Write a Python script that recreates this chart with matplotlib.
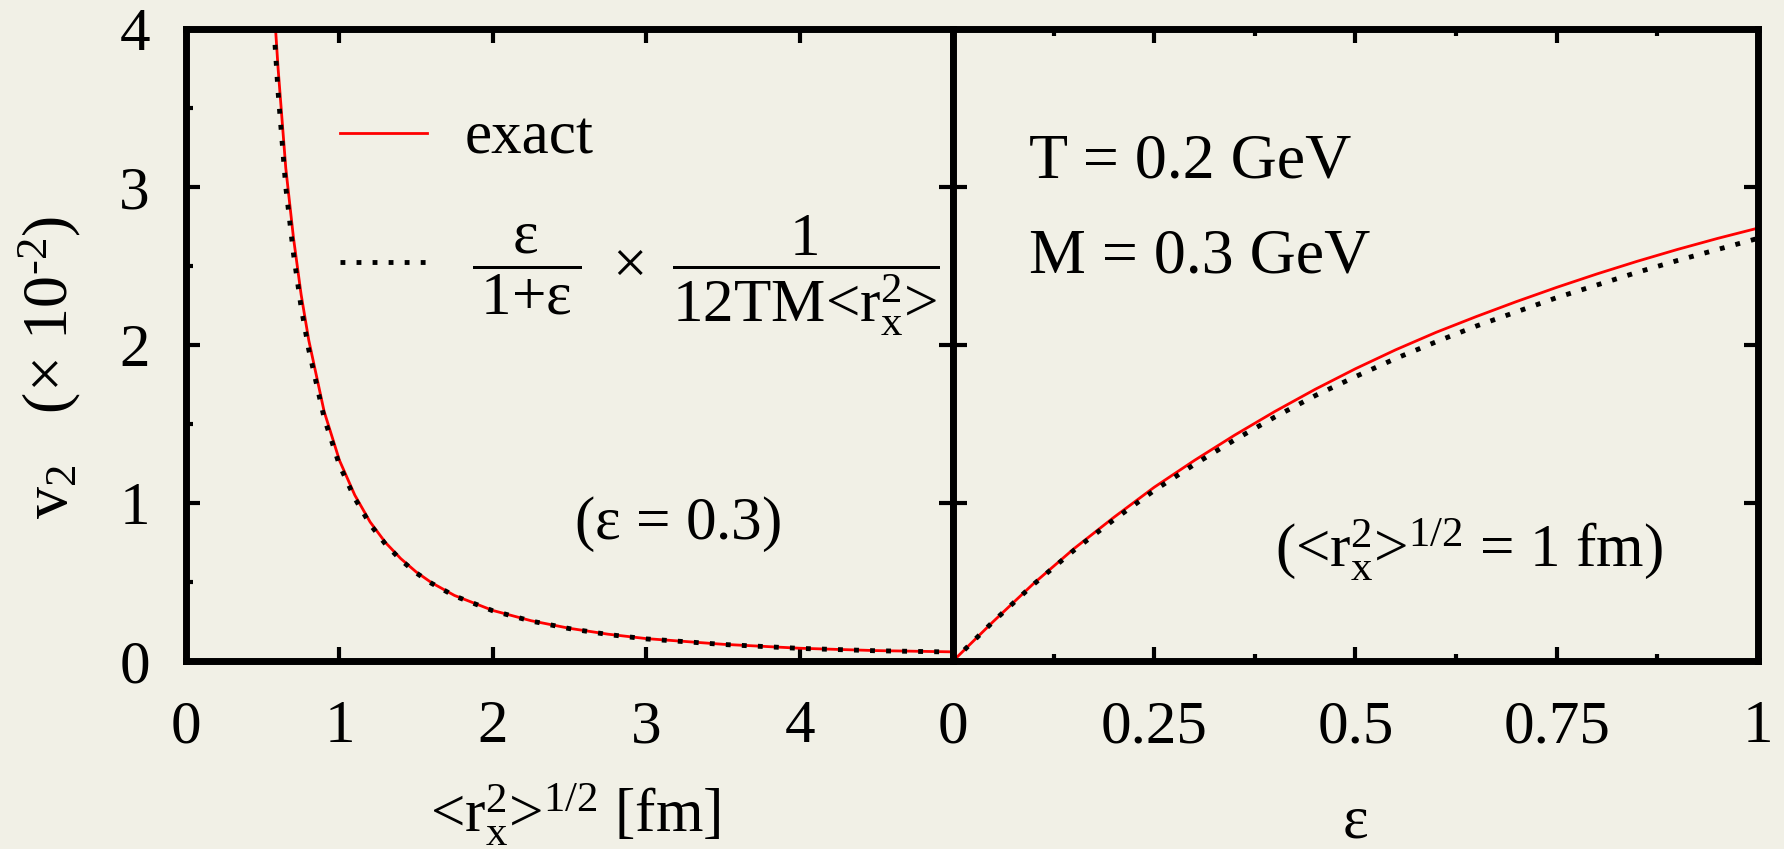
import matplotlib
matplotlib.use('Agg')
import matplotlib.pyplot as plt
from matplotlib.ticker import MultipleLocator

plt.rcParams['font.family'] = 'Liberation Serif'
plt.rcParams['mathtext.fontset'] = 'custom'
plt.rcParams['mathtext.rm'] = 'Liberation Serif'
plt.rcParams['mathtext.it'] = 'Liberation Serif'
plt.rcParams['mathtext.bf'] = 'Liberation Serif'

bg = '#F1F0E6'
fs = 44

# v2 (x 10^-2) against the rms radius, eps = 0.3
r_rms = [0.58, 0.6, 0.65, 0.7, 0.75, 0.8, 0.9, 1.0, 1.1, 1.2, 1.3, 1.4, 1.5, 1.6,
         1.75, 2.0, 2.25, 2.5, 2.75, 3.0, 3.5, 4.0, 4.5, 5.0]
v2_r_exact = [4.05, 3.75, 3.12, 2.68, 2.32, 2.03, 1.58, 1.27, 1.05, 0.88, 0.75,
              0.648, 0.564, 0.496, 0.415, 0.32, 0.255, 0.207, 0.17, 0.142, 0.106,
              0.081, 0.066, 0.058]
v2_r_approx = [3.9, 3.6, 3.0, 2.58, 2.24, 1.97, 1.54, 1.24, 1.03, 0.865, 0.74,
               0.64, 0.558, 0.492, 0.412, 0.318, 0.253, 0.205, 0.168, 0.14, 0.105,
               0.08, 0.065, 0.057]

# v2 (x 10^-2) against eccentricity, <r_x^2>^1/2 = 1 fm
eps = [0, 0.05, 0.1, 0.15, 0.2, 0.25, 0.3, 0.35, 0.4, 0.45, 0.5,
       0.55, 0.6, 0.65, 0.7, 0.75, 0.8, 0.85, 0.9, 0.95, 1.0]
v2_e_exact = [0, 0.25, 0.49, 0.71, 0.91, 1.10, 1.27, 1.43, 1.58, 1.72, 1.85,
              1.97, 2.08, 2.18, 2.275, 2.365, 2.45, 2.53, 2.605, 2.675, 2.74]
v2_e_approx = [0, 0.25, 0.485, 0.70, 0.895, 1.08, 1.245, 1.40, 1.545, 1.68, 1.80,
               1.915, 2.02, 2.12, 2.21, 2.30, 2.38, 2.46, 2.535, 2.605, 2.675]

fig = plt.figure(figsize=(17.84, 8.49), dpi=100, facecolor=bg)
ax1 = fig.add_axes([0.1043, 0.2214, 0.4299, 0.7444], facecolor=bg)
ax2 = fig.add_axes([0.5342, 0.2214, 0.4512, 0.7444], facecolor=bg)

dots = (0, (1, 2.3))
approx_label = (r'$\,\dfrac{\varepsilon}{\,1\text{+}\varepsilon\,}\ \times\ '
                r'\dfrac{1}{12\mathrm{TM}\text{<}\mathrm{r}_\mathrm{x}^2\text{>}}$')
for ax, x, ye, ya in [(ax1, r_rms, v2_r_exact, v2_r_approx),
                      (ax2, eps, v2_e_exact, v2_e_approx)]:
    ax.plot(x, ye, color='red', lw=2.0, label='exact')
    ax.plot(x, ya, color='black', lw=3.5, ls=dots, dash_capstyle='butt',
            label=approx_label)
    ax.set_ylim(0, 4)
    ax.set_yticks([0, 1, 2, 3, 4])
    for s in ax.spines.values():
        s.set_linewidth(5)
    ax.tick_params(which='major', direction='in', top=True, right=True,
                   length=10, width=3, labelsize=fs, pad=28)
    ax.tick_params(which='minor', direction='in', length=5, width=3)

ax1.set_xlim(0, 5)
ax1.set_xticks([0, 1, 2, 3, 4])
ax1.yaxis.set_minor_locator(MultipleLocator(0.5))
ax1.tick_params(which='minor', left=True, right=False)
ax1.tick_params(axis='y', pad=26)

ax2.set_xlim(0, 1)
ax2.set_xticks([0, 0.25, 0.5, 0.75, 1])
ax2.set_xticklabels(['0', '0.25', '0.5', '0.75', '1'])
ax2.xaxis.set_minor_locator(MultipleLocator(0.125))
ax2.tick_params(which='minor', top=True, bottom=True)
ax2.tick_params(labelleft=False)

leg = ax1.legend(loc='upper left', bbox_to_anchor=(0.2008, 0.87), frameon=False,
                 fontsize=fs, handlelength=1.42, handletextpad=0.62,
                 borderpad=0, borderaxespad=0, labelspacing=0.75)

ax1.text(2.53, 0.77, r'($\varepsilon$ = 0.3)', fontsize=fs, va='baseline')
ax2.text(0.094, 3.06, 'T = 0.2 GeV', fontsize=46, va='baseline')
ax2.text(0.094, 2.46, 'M = 0.3 GeV', fontsize=46, va='baseline')
ax2.text(0.40, 0.595,
         r'($\text{<}\mathrm{r}_\mathrm{x}^2\text{>}^{1/2}$ = 1 fm)',
         fontsize=fs, va='baseline')

fig.text(50 / 1784, 1 - 367 / 849,
         r'$\mathrm{v}_2\ \ \ (\times\ 10^{\text{-}2})$',
         rotation=90, fontsize=46, ha='center', va='center')
fig.text(575 / 1784, 1 - 832 / 849,
         r'$\text{<}\mathrm{r}_\mathrm{x}^2\text{>}^{1/2}$ [fm]',
         fontsize=fs, ha='center', va='baseline')
fig.text(1355 / 1784, 1 - 837 / 849, r'$\varepsilon$', fontsize=fs,
         ha='center', va='baseline')

fig.savefig('out.png', dpi=100, facecolor=bg)
